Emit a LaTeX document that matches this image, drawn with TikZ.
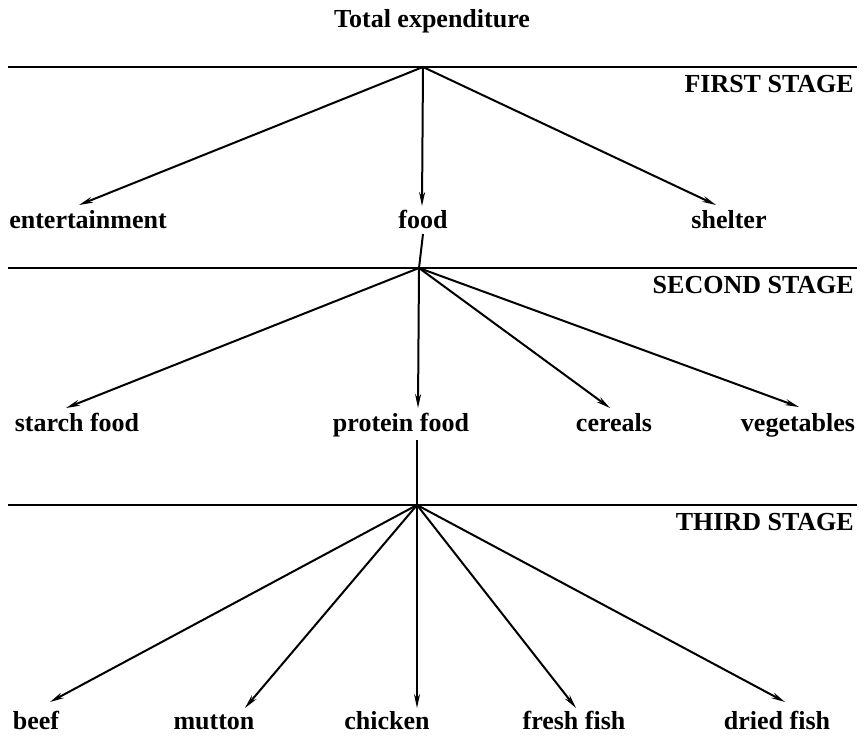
\documentclass[tikz,border=0pt]{standalone}
\usepackage{fontspec}
\setmainfont{Liberation Serif}
\usetikzlibrary{arrows.meta}
\begin{document}
\begin{tikzpicture}[x=1pt,y=-1pt,
  lbl/.style={font=\fontsize{26}{28}\selectfont\bfseries, inner sep=0pt, anchor=base},
  stage/.style={font=\fontsize{26}{28}\selectfont\bfseries, inner sep=0pt, anchor=base east},
  rule/.style={line width=2.2pt},
  conn/.style={line width=2pt},
  arr/.style={line width=2pt, -{Stealth[length=14pt,width=6pt]}}]
\useasboundingbox (0,0) rectangle (864,740);

% title
\node[lbl] (total) at (432,27) {Total expenditure};

% stage rules
\coordinate (r1a) at (8,67);   \coordinate (r1b) at (857,67);
\coordinate (r2a) at (8,268);  \coordinate (r2b) at (857,268);
\coordinate (r3a) at (8,505);  \coordinate (r3b) at (857,505);
\draw[rule] (r1a) -- (r1b);
\draw[rule] (r2a) -- (r2b);
\draw[rule] (r3a) -- (r3b);

\node[stage] (s1) at (854,92) {FIRST STAGE};
\node[stage] (s2) at (854,293) {SECOND STAGE};
\node[stage] (s3) at (854,530) {THIRD STAGE};

% hubs
\coordinate (h1) at (423,67);
\coordinate (h2) at (419,268);
\coordinate (h3) at (417,505);

% first stage
\node[lbl] (ent) at (88,228) {entertainment};
\node[lbl] (food) at (423,228) {food};
\node[lbl] (shel) at (729,228) {shelter};
\coordinate (tEnt) at (79,205);
\coordinate (tFood) at (422,206);
\coordinate (tShel) at (716,205);
\draw[arr] (h1) -- (tEnt);
\draw[arr] (h1) -- (tFood);
\draw[arr] (h1) -- (tShel);
\coordinate (fb) at (423,234);
\draw[conn] (fb) -- (h2);

% second stage
\node[lbl] (starch) at (77,431) {starch food};
\node[lbl] (prot) at (401,431) {protein food};
\node[lbl] (cer) at (614,431) {cereals};
\node[lbl] (veg) at (798,431) {vegetables};
\coordinate (tStarch) at (66,408);
\coordinate (tProt) at (418,408);
\coordinate (tCer) at (610,408);
\coordinate (tVeg) at (799,407);
\draw[arr] (h2) -- (tStarch);
\draw[arr] (h2) -- (tProt);
\draw[arr] (h2) -- (tCer);
\draw[arr] (h2) -- (tVeg);
\coordinate (pb) at (417,440);
\draw[conn] (pb) -- (h3);

% third stage
\node[lbl] (beef) at (36,729) {beef};
\node[lbl] (mutton) at (214,729) {mutton};
\node[lbl] (chick) at (387,729) {chicken};
\node[lbl] (fresh) at (574,729) {fresh fish};
\node[lbl] (dried) at (777,729) {dried fish};
\coordinate (tBeef) at (50,702);
\coordinate (tMut) at (245,708);
\coordinate (tChick) at (417,708);
\coordinate (tFresh) at (576,708);
\coordinate (tDried) at (785,702);
\draw[arr] (h3) -- (tBeef);
\draw[arr] (h3) -- (tMut);
\draw[arr] (h3) -- (tChick);
\draw[arr] (h3) -- (tFresh);
\draw[arr] (h3) -- (tDried);
\end{tikzpicture}
\end{document}
